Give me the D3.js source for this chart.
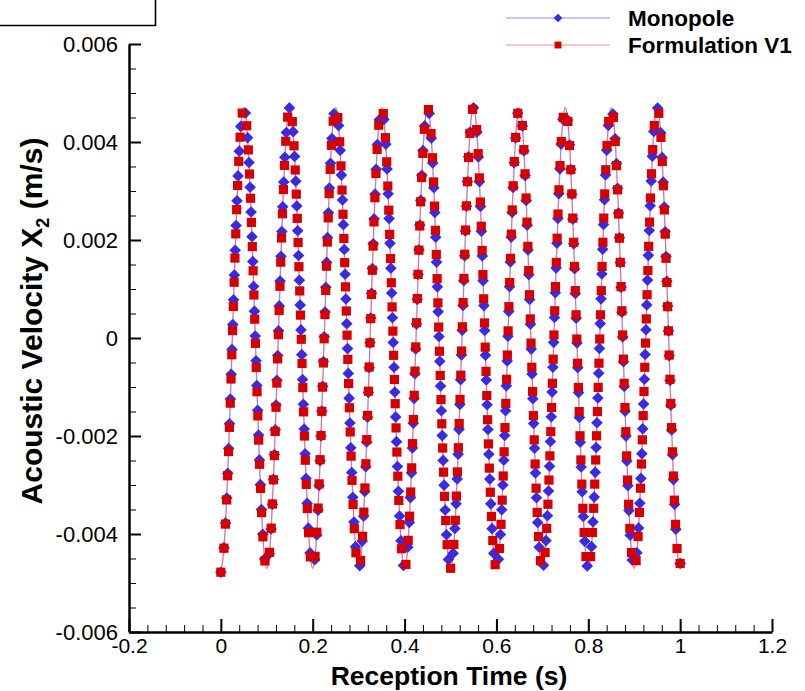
<!DOCTYPE html>
<html>
<head>
<meta charset="utf-8">
<script src="https://cdn.jsdelivr.net/npm/d3@7"></script>
<style>
body { margin: 0; background: #fff; }
svg { display: block; font-family: "Liberation Sans", Arial, sans-serif; }
</style>
</head>
<body>
<svg id="chart" width="805" height="691"></svg>
<script>
// reception time (s)
const time = [
  0, 0.005, 0.01, 0.015, 0.02, 0.025, 0.03, 0.035, 0.04, 0.045, 0.05, 0.055, 0.06, 0.065, 0.07, 0.075, 0.08, 0.085, 0.09, 0.095,
  0.1, 0.105, 0.11, 0.115, 0.12, 0.125, 0.13, 0.135, 0.14, 0.145, 0.15, 0.155, 0.16, 0.165, 0.17, 0.175, 0.18, 0.185, 0.19, 0.195,
  0.2, 0.205, 0.21, 0.215, 0.22, 0.225, 0.23, 0.235, 0.24, 0.245, 0.25, 0.255, 0.26, 0.265, 0.27, 0.275, 0.28, 0.285, 0.29, 0.295,
  0.3, 0.305, 0.31, 0.315, 0.32, 0.325, 0.33, 0.335, 0.34, 0.345, 0.35, 0.355, 0.36, 0.365, 0.37, 0.375, 0.38, 0.385, 0.39, 0.395,
  0.4, 0.405, 0.41, 0.415, 0.42, 0.425, 0.43, 0.435, 0.44, 0.445, 0.45, 0.455, 0.46, 0.465, 0.47, 0.475, 0.48, 0.485, 0.49, 0.495,
  0.5, 0.505, 0.51, 0.515, 0.52, 0.525, 0.53, 0.535, 0.54, 0.545, 0.55, 0.555, 0.56, 0.565, 0.57, 0.575, 0.58, 0.585, 0.59, 0.595,
  0.6, 0.605, 0.61, 0.615, 0.62, 0.625, 0.63, 0.635, 0.64, 0.645, 0.65, 0.655, 0.66, 0.665, 0.67, 0.675, 0.68, 0.685, 0.69, 0.695,
  0.7, 0.705, 0.71, 0.715, 0.72, 0.725, 0.73, 0.735, 0.74, 0.745, 0.75, 0.755, 0.76, 0.765, 0.77, 0.775, 0.78, 0.785, 0.79, 0.795,
  0.8, 0.805, 0.81, 0.815, 0.82, 0.825, 0.83, 0.835, 0.84, 0.845, 0.85, 0.855, 0.86, 0.865, 0.87, 0.875, 0.88, 0.885, 0.89, 0.895,
  0.9, 0.905, 0.91, 0.915, 0.92, 0.925, 0.93, 0.935, 0.94, 0.945, 0.95, 0.955, 0.96, 0.965, 0.97, 0.975, 0.98, 0.985, 0.99, 0.995,
  1
];

// acoustic velocity X2 (m/s)
const monopole = [
  -0.00478, -0.00447, -0.0038, -0.00276, -0.00145, 0, 0.00145, 0.00276, 0.0038, 0.00447, 0.0047, 0.00447, 0.0038, 0.00276, 0.00145, 0, -0.00145, -0.00276, -0.0038, -0.00447,
  -0.0047, -0.00447, -0.0038, -0.00276, -0.00145, 0, 0.00145, 0.00276, 0.0038, 0.00447, 0.0047, 0.00447, 0.0038, 0.00276, 0.00145, 0, -0.00145, -0.00276, -0.0038, -0.00447,
  -0.0047, -0.00447, -0.0038, -0.00276, -0.00145, 0, 0.00145, 0.00276, 0.0038, 0.00447, 0.0047, 0.00447, 0.0038, 0.00276, 0.00145, 0, -0.00145, -0.00276, -0.0038, -0.00447,
  -0.0047, -0.00447, -0.0038, -0.00276, -0.00145, 0, 0.00145, 0.00276, 0.0038, 0.00447, 0.0047, 0.00447, 0.0038, 0.00276, 0.00145, 0, -0.00145, -0.00276, -0.0038, -0.00447,
  -0.0047, -0.00447, -0.0038, -0.00276, -0.00145, 0, 0.00145, 0.00276, 0.0038, 0.00447, 0.0047, 0.00447, 0.0038, 0.00276, 0.00145, 0, -0.00145, -0.00276, -0.0038, -0.00447,
  -0.0047, -0.00447, -0.0038, -0.00276, -0.00145, 0, 0.00145, 0.00276, 0.0038, 0.00447, 0.0047, 0.00447, 0.0038, 0.00276, 0.00145, 0, -0.00145, -0.00276, -0.0038, -0.00447,
  -0.0047, -0.00447, -0.0038, -0.00276, -0.00145, 0, 0.00145, 0.00276, 0.0038, 0.00447, 0.0047, 0.00447, 0.0038, 0.00276, 0.00145, 0, -0.00145, -0.00276, -0.0038, -0.00447,
  -0.0047, -0.00447, -0.0038, -0.00276, -0.00145, 0, 0.00145, 0.00276, 0.0038, 0.00447, 0.0047, 0.00447, 0.0038, 0.00276, 0.00145, 0, -0.00145, -0.00276, -0.0038, -0.00447,
  -0.0047, -0.00447, -0.0038, -0.00276, -0.00145, 0, 0.00145, 0.00276, 0.0038, 0.00447, 0.0047, 0.00447, 0.0038, 0.00276, 0.00145, 0, -0.00145, -0.00276, -0.0038, -0.00447,
  -0.0047, -0.00447, -0.0038, -0.00276, -0.00145, 0, 0.00145, 0.00276, 0.0038, 0.00447, 0.0047, 0.00447, 0.0038, 0.00276, 0.00145, 0, -0.00145, -0.00276, -0.0038, -0.00447,
  -0.0046
];

const formulationV1 = [
  -0.00478, -0.00447, -0.0038, -0.00276, -0.00145, 0, 0.00145, 0.00276, 0.0038, 0.00447, 0.0047, 0.00447, 0.0038, 0.00276, 0.00145, 0, -0.00145, -0.00276, -0.0038, -0.00447,
  -0.0047, -0.00447, -0.0038, -0.00276, -0.00145, 0, 0.00145, 0.00276, 0.0038, 0.00447, 0.0047, 0.00447, 0.0038, 0.00276, 0.00145, 0, -0.00145, -0.00276, -0.0038, -0.00447,
  -0.0047, -0.00447, -0.0038, -0.00276, -0.00145, 0, 0.00145, 0.00276, 0.0038, 0.00447, 0.0047, 0.00447, 0.0038, 0.00276, 0.00145, 0, -0.00145, -0.00276, -0.0038, -0.00447,
  -0.0047, -0.00447, -0.0038, -0.00276, -0.00145, 0, 0.00145, 0.00276, 0.0038, 0.00447, 0.0047, 0.00447, 0.0038, 0.00276, 0.00145, 0, -0.00145, -0.00276, -0.0038, -0.00447,
  -0.0047, -0.00447, -0.0038, -0.00276, -0.00145, 0, 0.00145, 0.00276, 0.0038, 0.00447, 0.0047, 0.00447, 0.0038, 0.00276, 0.00145, 0, -0.00145, -0.00276, -0.0038, -0.00447,
  -0.0047, -0.00447, -0.0038, -0.00276, -0.00145, 0, 0.00145, 0.00276, 0.0038, 0.00447, 0.0047, 0.00447, 0.0038, 0.00276, 0.00145, 0, -0.00145, -0.00276, -0.0038, -0.00447,
  -0.0047, -0.00447, -0.0038, -0.00276, -0.00145, 0, 0.00145, 0.00276, 0.0038, 0.00447, 0.0047, 0.00447, 0.0038, 0.00276, 0.00145, 0, -0.00145, -0.00276, -0.0038, -0.00447,
  -0.0047, -0.00447, -0.0038, -0.00276, -0.00145, 0, 0.00145, 0.00276, 0.0038, 0.00447, 0.0047, 0.00447, 0.0038, 0.00276, 0.00145, 0, -0.00145, -0.00276, -0.0038, -0.00447,
  -0.0047, -0.00447, -0.0038, -0.00276, -0.00145, 0, 0.00145, 0.00276, 0.0038, 0.00447, 0.0047, 0.00447, 0.0038, 0.00276, 0.00145, 0, -0.00145, -0.00276, -0.0038, -0.00447,
  -0.0047, -0.00447, -0.0038, -0.00276, -0.00145, 0, 0.00145, 0.00276, 0.0038, 0.00447, 0.0047, 0.00447, 0.0038, 0.00276, 0.00145, 0, -0.00145, -0.00276, -0.0038, -0.00447,
  -0.0046
];

const seriesNames = ["Monopole", "Formulation V1"];
const xTicks = [-0.2, 0, 0.2, 0.4, 0.6, 0.8, 1, 1.2];
const xTickLabels = ["-0.2", "0", "0.2", "0.4", "0.6", "0.8", "1", "1.2"];
const yTicks = [-0.006, -0.004, -0.002, 0, 0.002, 0.004, 0.006];
const yTickLabels = ["-0.006", "-0.004", "-0.002", "0", "0.002", "0.004", "0.006"];

const svg = d3.select("#chart");

const x = d3.scaleLinear().domain([-0.2, 1.2]).range([129, 772]);
const y = d3.scaleLinear().domain([-0.006, 0.006]).range([632, 44]);

// the stray frame in the top-left corner
svg.append("path")
    .attr("d", "M0,25.5H155.5V0")
    .attr("fill", "none")
    .attr("stroke", "#000")
    .attr("stroke-width", 1.6);

// minor ticks
let xMinor = d3.range(0, 36).map(i => -0.2 + i * 0.04);
let yMinor = d3.range(0, 25).map(i => -0.006 + i * 0.0005);

svg.append("g")
    .attr("transform", "translate(0,632)")
    .call(d3.axisBottom(x).tickValues(xMinor).tickSize(-7).tickFormat(""))
    .call(g => g.select(".domain").remove())
    .call(g => g.selectAll("line").attr("stroke-width", 1));

svg.append("g")
    .attr("transform", "translate(129,0)")
    .call(d3.axisLeft(y).tickValues(yMinor).tickSize(-7).tickFormat(""))
    .call(g => g.select(".domain").remove())
    .call(g => g.selectAll("line").attr("stroke-width", 1));

// major axes
let xAxis = svg.append("g")
    .attr("transform", "translate(0,632)")
    .call(d3.axisBottom(x).tickValues(xTicks).tickSize(-13).tickSizeOuter(0).tickPadding(6)
        .tickFormat((d, i) => xTickLabels[i]));
xAxis.select(".domain").attr("stroke-width", 2.5);
xAxis.selectAll("line").attr("stroke-width", 2);
xAxis.selectAll("text").attr("font-size", 21).attr("fill", "#000");

let yAxis = svg.append("g")
    .attr("transform", "translate(129,0)")
    .call(d3.axisLeft(y).tickValues(yTicks).tickSize(-12).tickSizeOuter(0).tickPadding(11)
        .tickFormat((d, i) => yTickLabels[i]));
yAxis.select(".domain").attr("stroke-width", 2.5);
yAxis.selectAll("line").attr("stroke-width", 2);
yAxis.selectAll("text").attr("font-size", 22).attr("fill", "#000");

// axis titles
svg.append("text")
    .attr("x", 449)
    .attr("y", 685)
    .attr("text-anchor", "middle")
    .attr("font-size", 26.5)
    .attr("font-weight", "bold")
    .text("Reception Time (s)");

let yTitle = svg.append("text")
    .attr("transform", "translate(42,321) rotate(-90)")
    .attr("text-anchor", "middle")
    .attr("font-size", 30)
    .attr("font-weight", "bold");
yTitle.append("tspan").text("Acoustic Velocity X");
yTitle.append("tspan").attr("font-size", 18).attr("dy", 7).text("2");
yTitle.append("tspan").attr("dy", -7).text(" (m/s)");

// series
let line = d3.line()
    .x((d, i) => x(time[i]))
    .y(d => y(d))
    .curve(d3.curveNatural);

let diamond = "M0,-5.8L5.8,0L0,5.8L-5.8,0Z";
let square = "M-4.6,-4.6H4.6V4.6H-4.6Z";

let series = [
    {name: seriesNames[0], values: monopole, lineColor: "#0000ff", markColor: "#2d2df2", mark: diamond, spacing: 24.8},
    {name: seriesNames[1], values: formulationV1, lineColor: "#ff0000", markColor: "#d60000", mark: square, spacing: 24.2}
];

// tecplot-like symbol skip: one symbol every fixed distance along the curve
function symbolPoints(node, spacing) {
    let total = node.getTotalLength();
    let pts = [];
    for (let s = 0; s < total - spacing * 0.5; s += spacing) {
        let p = node.getPointAtLength(s);
        pts.push([p.x, p.y]);
    }
    let end = node.getPointAtLength(total);
    pts.push([end.x, end.y]);
    return pts;
}

series.forEach(s => {
    let path = svg.append("path")
        .datum(s.values)
        .attr("d", line)
        .attr("fill", "none")
        .attr("stroke", s.lineColor)
        .attr("stroke-opacity", 0.3)
        .attr("stroke-width", 1.3);

    svg.append("g").selectAll("path")
        .data(symbolPoints(path.node(), s.spacing))
        .enter()
        .append("path")
        .attr("d", s.mark)
        .attr("transform", d => "translate(" + d[0] + "," + d[1] + ")")
        .attr("fill", s.markColor);
});

// legend
let legend = svg.append("g");
series.forEach((s, i) => {
    let ly = 18 + i * 27;
    legend.append("line")
        .attr("x1", 506).attr("x2", 610)
        .attr("y1", ly).attr("y2", ly)
        .attr("stroke", s.lineColor)
        .attr("stroke-opacity", 0.3)
        .attr("stroke-width", 1.5);
    legend.append("path")
        .attr("d", s.mark)
        .attr("transform", "translate(558," + ly + ") scale(0.75)")
        .attr("fill", s.markColor);
    legend.append("text")
        .attr("x", 628)
        .attr("y", ly + 8)
        .attr("font-size", 22.5)
        .attr("font-weight", "bold")
        .text(s.name);
});
</script>
</body>
</html>
